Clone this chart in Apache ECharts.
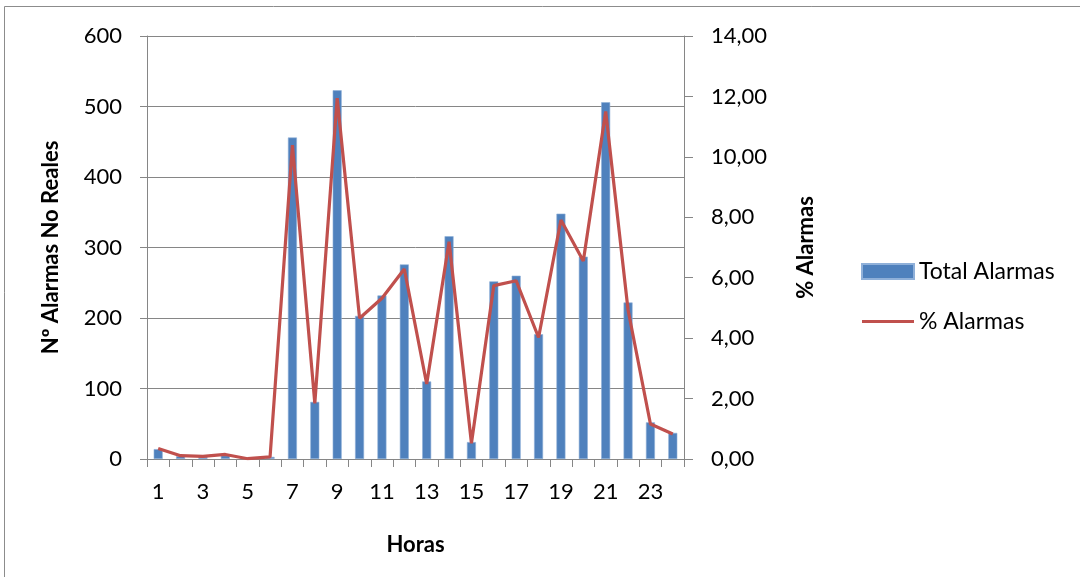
<!DOCTYPE html>
<html><head><meta charset="utf-8">
<script src="https://cdn.jsdelivr.net/npm/echarts@6/dist/echarts.min.js"></script>
<style>html,body{margin:0;padding:0;background:#fff}#c{width:1080px;height:577px}</style>
</head><body><div id="c"></div>
<script>
const horas = ['1','2','3','4','5','6','7','8','9','10','11','12','13','14','15','16','17','18','19','20','21','22','23','24'];
const totalAlarmas = [14,4,3,5,1,3,456,81,523,203,232,276,110,316,24,252,260,177,348,287,506,222,52,37];
const pctAlarmas = [0.35,0.11,0.09,0.15,0.01,0.07,10.39,1.84,11.94,4.66,5.32,6.29,2.48,7.19,0.52,5.74,5.90,4.02,7.91,6.55,11.50,4.93,1.16,0.83];

const FONT = 'Lato, "Open Sans", sans-serif';
const chart = echarts.init(document.getElementById('c'));
chart.setOption({
  animation:false,
  backgroundColor:'#fff',
  graphic:[{type:'rect',shape:{x:4.5,y:6.5,width:1090,height:600},style:{fill:'none',stroke:'#8c8c8c',lineWidth:1},silent:true}],
  grid:{left:147,right:396,top:36,bottom:118},
  legend:{
    left:856, top:255, orient:'vertical', itemGap:27, itemWidth:52, itemHeight:15,
    textStyle:{fontFamily:FONT,fontSize:23,lineHeight:22,color:'#000'},
    data:[{name:'Total Alarmas',icon:'rect'},{name:'% Alarmas',icon:'path://M0,0 L52,0 L52,3 L0,3 Z'}]
  },
  xAxis:{
    type:'category', data:horas, boundaryGap:true,
    name:'Horas', nameLocation:'middle', nameGap:75,
    nameTextStyle:{fontFamily:FONT,fontSize:22,fontWeight:'bold',color:'#000'},
    axisLine:{lineStyle:{color:'#868686'}},
    axisTick:{show:true,length:8,interval:0,lineStyle:{color:'#868686'}},
    axisLabel:{interval:1,fontFamily:FONT,fontSize:22,color:'#000',margin:22}
  },
  yAxis:[{
    type:'value', min:0, max:600, interval:100,
    name:'Nº Alarmas No Reales', nameLocation:'middle', nameGap:85,
    nameTextStyle:{fontFamily:FONT,fontSize:22,fontWeight:'bold',color:'#000'},
    axisLine:{show:true,lineStyle:{color:'#868686'}},
    axisTick:{show:true,length:7,lineStyle:{color:'#868686'}},
    axisLabel:{fontFamily:FONT,fontSize:22,color:'#000',margin:25},
    splitLine:{lineStyle:{color:'#868686'}}
  },{
    type:'value', min:0, max:14, interval:2,
    name:'% Alarmas', nameLocation:'middle', nameGap:111, nameRotate:90,
    nameTextStyle:{fontFamily:FONT,fontSize:22,fontWeight:'bold',color:'#000'},
    axisLine:{show:true,lineStyle:{color:'#868686'}},
    axisTick:{show:true,length:9,lineStyle:{color:'#868686'}},
    axisLabel:{fontFamily:FONT,fontSize:22,color:'#000',margin:27,
      formatter:v=>v.toFixed(2).replace('.',',')},
    splitLine:{show:false}
  }],
  series:[{
    name:'Total Alarmas', type:'bar', data:totalAlarmas, barWidth:9,
    itemStyle:{color:'#4F81BD',borderColor:'#8fb0d9',borderWidth:0.6}
  },{
    name:'% Alarmas', type:'line', yAxisIndex:1, data:pctAlarmas,
    symbol:'none', lineStyle:{color:'#C0504D',width:3.2}, itemStyle:{color:'#C0504D'}
  }]
});
</script></body></html>
